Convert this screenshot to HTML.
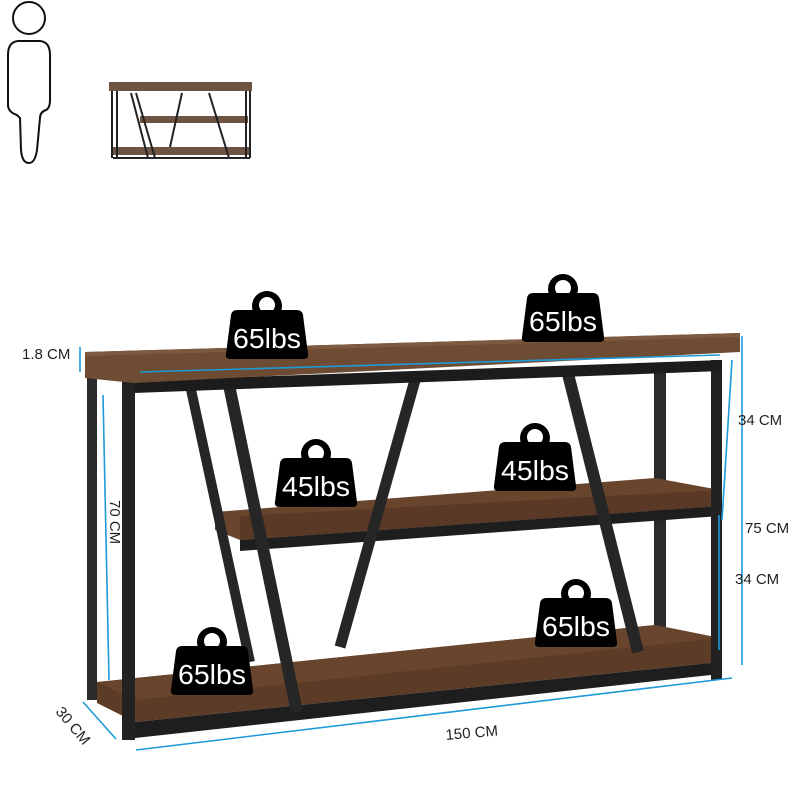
<!DOCTYPE html>
<html><head><meta charset="utf-8"><style>
html,body{margin:0;padding:0;background:#fff}
svg{display:block}
text{font-family:"Liberation Sans",sans-serif}
</style></head><body>
<svg width="800" height="786" viewBox="0 0 800 786" xmlns="http://www.w3.org/2000/svg">
<defs>
<g id="wt">
<circle cx="0" cy="0" r="15" fill="#000"/>
<circle cx="0" cy="-1" r="8" fill="#fff"/>
<path d="M-30 4 L30 4 Q35 4 36 9 L41 48 Q42 53 36 53 L-36 53 Q-42 53 -41 48 L-36 9 Q-35 4 -30 4 Z" fill="#000"/>
</g>
</defs>
<!-- human icon -->
<circle cx="29" cy="18" r="16" fill="none" stroke="#111" stroke-width="2"/>
<path d="M18 41 Q8 42 8 55 L8 105 Q8 112 17 115 L20 118 L21 150 Q22 163 29 163 Q35 163 37 150 L40 118 Q40 112 46 110 Q50 108 50 100 L50 55 Q50 42 40 41 Z" fill="none" stroke="#111" stroke-width="2"/>
<!-- small table thumb -->
<rect x="109" y="82" width="143" height="9" fill="#6e5543"/>
<rect x="140" y="116" width="108" height="7" fill="#6e5543"/>
<rect x="113" y="147" width="136" height="8" fill="#6e5543"/>
<g stroke="#222" stroke-width="2" fill="none">
<line x1="112" y1="91" x2="112" y2="158"/><line x1="117" y1="91" x2="117" y2="158"/>
<line x1="246" y1="91" x2="246" y2="158"/><line x1="250" y1="91" x2="250" y2="158"/>
<line x1="131" y1="93" x2="148" y2="158"/><line x1="136" y1="93" x2="155" y2="158"/>
<line x1="182" y1="93" x2="170" y2="147"/><line x1="209" y1="93" x2="229" y2="158"/>
<line x1="113" y1="158" x2="250" y2="158"/>
</g>
<!-- legs back -->
<rect x="87" y="368" width="10" height="332" fill="#2a2a2a"/>
<rect x="654" y="365" width="12" height="292" fill="#2a2a2a"/>
<!-- bottom shelf -->
<polygon points="97,682 655,625 720,638 720,662 135,722 97,703" fill="#5c3b27"/>
<polygon points="97,682 655,625 720,638 135,700" fill="#6a452d"/>
<polygon points="135,722 720,662 720,674 135,738" fill="#1e1e1e"/>
<!-- middle shelf -->
<polygon points="215,512 655,478 720,490 720,506 240,540 215,530" fill="#6a452d"/>
<polygon points="240,516 720,490 720,506 240,540" fill="#5a3926"/>
<polygon points="240,540 720,506 720,516 240,551" fill="#1e1e1e"/>
<!-- diagonals -->
<g stroke="#262626">
<line x1="190" y1="385" x2="250" y2="662" stroke-width="10"/>
<line x1="229" y1="385" x2="297" y2="712" stroke-width="12"/>
<line x1="415" y1="380" x2="340" y2="647" stroke-width="11"/>
<line x1="567" y1="370" x2="638" y2="652" stroke-width="12"/>
</g>
<!-- front legs -->
<rect x="122" y="378" width="13" height="362" fill="#222"/>
<rect x="711" y="360" width="11" height="320" fill="#222"/>
<!-- top frame rail -->
<polygon points="134,381 722,360 722,371 134,393" fill="#1c1c1c"/>
<!-- top board -->
<polygon points="85,352 740,333 740,352 134,383 85,378" fill="#6e4c34"/>
<polygon points="85,352 740,333 740,337 85,356" fill="#7d5a3f"/>
<!-- dimension lines -->
<g stroke="#1d9ad8" stroke-width="1.6">
<line x1="80" y1="347" x2="80" y2="372"/>
<line x1="742" y1="336" x2="742" y2="665"/>
<line x1="732" y1="360" x2="722" y2="520"/>
<line x1="719" y1="515" x2="719" y2="650"/>
<line x1="103" y1="395" x2="109" y2="680"/>
<line x1="136" y1="750" x2="732" y2="678"/>
<line x1="83" y1="702" x2="116" y2="739"/>
<line x1="140" y1="372" x2="720" y2="355"/>
</g>
<!-- weights -->
<use href="#wt" x="267" y="306"/>
<text x="267" y="348" font-size="28" fill="#fff" text-anchor="middle" textLength="68" lengthAdjust="spacingAndGlyphs">65lbs</text>
<use href="#wt" x="563" y="289"/>
<text x="563" y="331" font-size="28" fill="#fff" text-anchor="middle" textLength="68" lengthAdjust="spacingAndGlyphs">65lbs</text>
<use href="#wt" x="316" y="454"/>
<text x="316" y="496" font-size="28" fill="#fff" text-anchor="middle" textLength="68" lengthAdjust="spacingAndGlyphs">45lbs</text>
<use href="#wt" x="535" y="438"/>
<text x="535" y="480" font-size="28" fill="#fff" text-anchor="middle" textLength="68" lengthAdjust="spacingAndGlyphs">45lbs</text>
<use href="#wt" x="212" y="642"/>
<text x="212" y="684" font-size="28" fill="#fff" text-anchor="middle" textLength="68" lengthAdjust="spacingAndGlyphs">65lbs</text>
<use href="#wt" x="576" y="594"/>
<text x="576" y="636" font-size="28" fill="#fff" text-anchor="middle" textLength="68" lengthAdjust="spacingAndGlyphs">65lbs</text>
<!-- labels -->
<g font-size="15" fill="#222">
<text x="22" y="359">1.8 CM</text>
<text x="738" y="425">34 CM</text>
<text x="745" y="533">75 CM</text>
<text x="735" y="584">34 CM</text>
<text x="446" y="740" transform="rotate(-5 446 740)">150 CM</text>
<text x="110" y="500" transform="rotate(90 110 500)">70 CM</text>
<text x="55" y="712" transform="rotate(50 55 712)">30 CM</text>
</g>
</svg>
</body></html>
